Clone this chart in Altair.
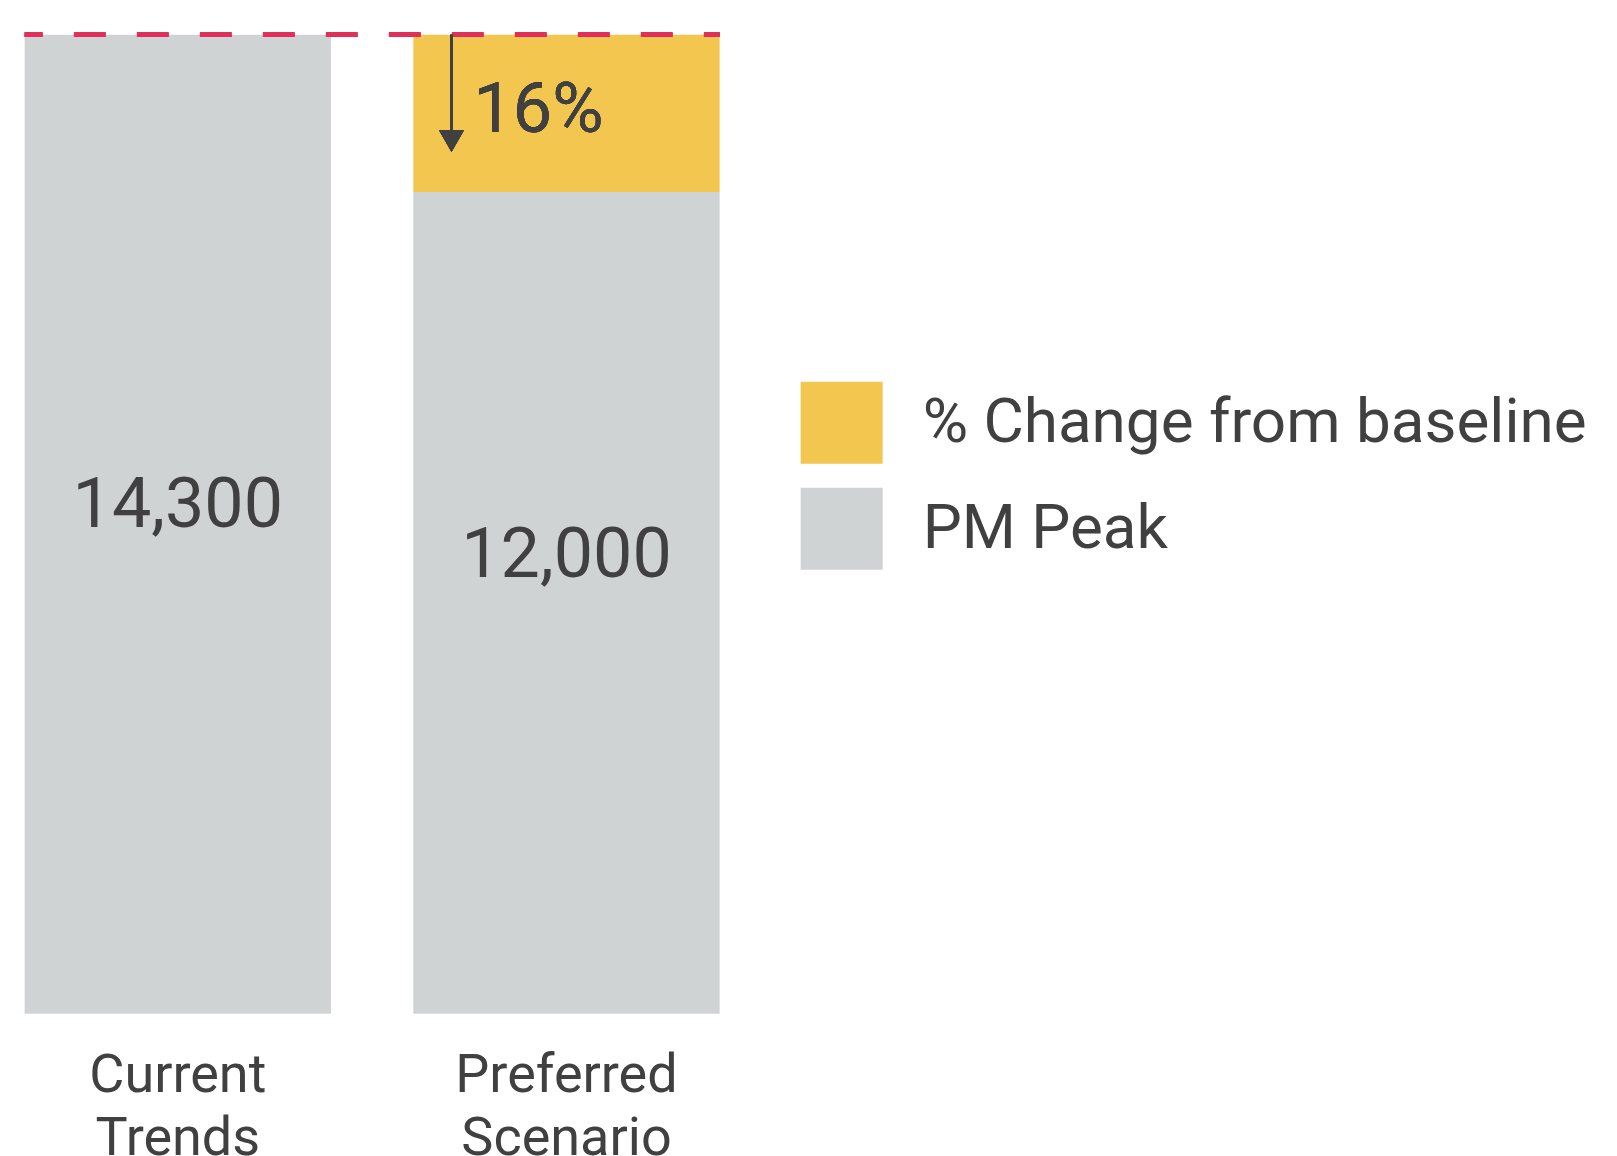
import altair as alt
import pandas as pd

# ---- data ----
categories = ["Current Trends", "Preferred Scenario"]
series = ["% Change from baseline", "PM Peak"]
pm_peak = [14300, 12000]
change = [0, 2300]
value_labels = ["14,300", "12,000"]
change_label = "16%"
baseline_value = 14300
arrow_line_end = 12870
arrow_head_value = 12744

colors = ["#F3C650", "#D0D3D4"]
text_color = "#404040"
FONT = "Roboto"

rows = []
for c, p, ch in zip(categories, pm_peak, change):
    rows.append({"cat": c, "series": "PM Peak", "value": p, "ord": 0})
    rows.append({"cat": c, "series": "% Change from baseline", "value": ch, "ord": 1})
bars_df = pd.DataFrame(rows)

labels_df = pd.DataFrame({"cat": categories, "value": pm_peak, "label": value_labels})

x_enc = alt.X(
    "cat:N",
    sort=categories,
    scale=alt.Scale(domain=categories, paddingInner=0.212, paddingOuter=0),
    axis=alt.Axis(
        title=None, labelAngle=0, domain=False, ticks=False, grid=False,
        labelPadding=35, labelFontSize=54, labelFont=FONT, labelColor=text_color,
        labelLineHeight=63, labelLimit=0, labelExpr="split(datum.label, ' ')",
    ),
)
y_scale = alt.Scale(domain=[0, baseline_value], nice=False, zero=True)

bars = alt.Chart(bars_df).mark_bar().encode(
    x=x_enc,
    y=alt.Y("value:Q", stack="zero", scale=y_scale, axis=None),
    color=alt.Color(
        "series:N",
        scale=alt.Scale(domain=series, range=colors),
        legend=alt.Legend(
            title=None, orient="none", legendX=776, legendY=347,
            symbolType="square", symbolSize=6724, symbolStrokeWidth=0,
            symbolOpacity=1, labelFontSize=62, labelFont=FONT,
            labelColor=text_color, labelOffset=40, rowPadding=24,
            labelLimit=0, padding=0,
        ),
    ),
    order=alt.Order("ord:Q"),
)

label_base = alt.Chart(labels_df).transform_calculate(mid="datum.value / 2")

label1 = label_base.transform_filter(alt.datum.cat == categories[0]).mark_text(
    font=FONT, fontSize=70, color=text_color, baseline="alphabetic", dy=3
).encode(x=alt.X("cat:N", sort=categories), y=alt.Y("mid:Q"), text="label:N")

label2 = label_base.transform_filter(alt.datum.cat == categories[1]).mark_text(
    font=FONT, fontSize=70, color=text_color, baseline="alphabetic", dy=-26
).encode(x=alt.X("cat:N", sort=categories), y=alt.Y("mid:Q"), text="label:N")

dashed = alt.Chart(bars_df).mark_rule(
    color="#E0305A", strokeWidth=4.7, strokeDash=[31.5, 31.5], strokeDashOffset=15.8
).encode(y=alt.datum(baseline_value))

arrow_line = alt.Chart(bars_df).mark_rule(
    color=text_color, strokeWidth=3, xOffset=-115
).encode(
    x=alt.datum(categories[1]),
    y=alt.datum(baseline_value),
    y2=alt.datum(arrow_line_end),
)

arrow_head = alt.Chart(bars_df).mark_point(
    shape="triangle-down", size=625, filled=True, color=text_color,
    opacity=1, xOffset=-115
).encode(x=alt.datum(categories[1]), y=alt.datum(arrow_head_value))

pct_text = alt.Chart(bars_df).mark_text(
    font=FONT, fontSize=70, color=text_color, align="left",
    baseline="alphabetic", dx=-93, dy=97, text=change_label
).encode(x=alt.datum(categories[1]), y=alt.datum(baseline_value))

chart = alt.layer(
    bars, label1, label2, dashed, arrow_line, arrow_head, pct_text
).properties(
    width=695, height=979,
    padding={"left": 13.65, "top": 23.65, "right": 0, "bottom": 0},
    background="white",
).configure_view(stroke=None)

chart.save("out.html", embed_options={"renderer": "svg", "actions": False})
